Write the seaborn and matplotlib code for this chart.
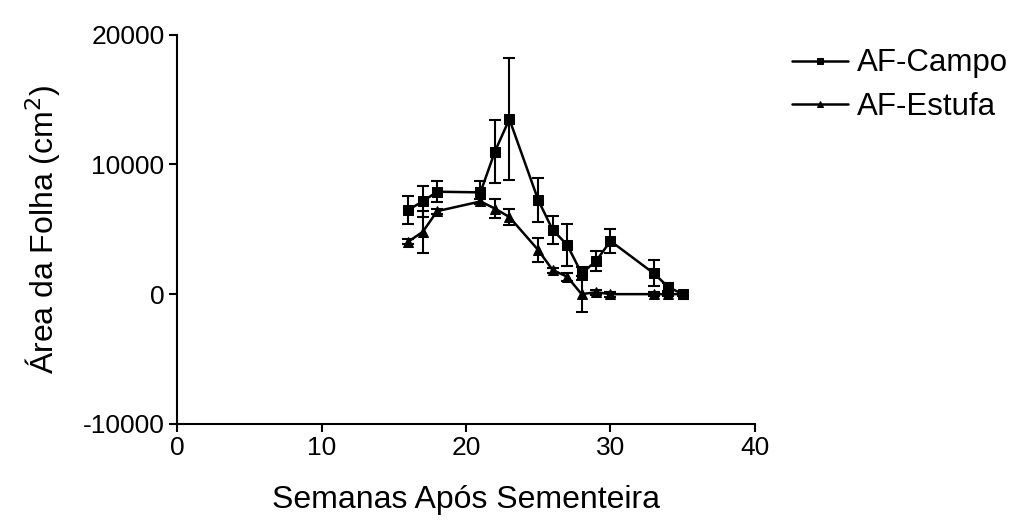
import matplotlib
matplotlib.use("Agg")
import matplotlib.pyplot as plt
import seaborn as sns
import pandas as pd
import numpy as np

weeks = [16, 17, 18, 21, 22, 23, 25, 26, 27, 28, 29, 30, 33, 34, 35]
campo = [6500, 7150, 7900, 7850, 11000, 13500, 7250, 4950, 3800, 1600, 2550, 4100, 1600, 550, 0]
campo_err = [1100, 1200, 800, 900, 2400, 4700, 1700, 1050, 1600, 500, 800, 900, 1000, 300, 150]
estufa = [4050, 4800, 6400, 7150, 6600, 5950, 3400, 1850, 1350, 0, 150, 0, 0, 0, 0]
estufa_err = [200, 1600, 200, 200, 750, 600, 900, 200, 300, 1400, 200, 200, 150, 150, 150]
series_names = ["AF-Campo", "AF-Estufa"]

sns.set_style("ticks")
plt.rcParams['font.family'] = ['Liberation Sans', 'DejaVu Sans']
plt.rcParams['axes.unicode_minus'] = False
plt.rcParams['text.color'] = 'black'
plt.rcParams['axes.labelcolor'] = 'black'

df = pd.DataFrame({
    "week": weeks + weeks,
    "value": campo + estufa,
    "serie": [series_names[0]] * len(weeks) + [series_names[1]] * len(weeks),
})

fig = plt.figure(figsize=(10.12, 5.2), dpi=100)
ax = fig.add_axes([0.175, 0.185, 0.571, 0.748])

sns.lineplot(data=df, x="week", y="value", hue="serie", style="serie",
             palette=["black", "black"], markers={"AF-Campo": "s", "AF-Estufa": "^"},
             dashes=False, linewidth=1.8, markersize=7, markeredgecolor="black",
             ax=ax, legend=True)

ax.errorbar(weeks, campo, yerr=campo_err, fmt="none", ecolor="black", elinewidth=1.5, capsize=4, capthick=1.5)
ax.errorbar(weeks, estufa, yerr=estufa_err, fmt="none", ecolor="black", elinewidth=1.5, capsize=4, capthick=1.5)

ax.set_xlim(0, 40)
ax.set_ylim(-10000, 20000)
ax.set_xticks([0, 10, 20, 30, 40])
ax.set_yticks([-10000, 0, 10000, 20000])
ax.tick_params(axis="both", labelsize=19, length=6, width=1.5, colors="black", pad=3)
for s in ["top", "right"]:
    ax.spines[s].set_visible(False)
for s in ["left", "bottom"]:
    ax.spines[s].set_linewidth(1.5)
    ax.spines[s].set_color("black")

ax.set_xlabel("Semanas Após Sementeira", fontsize=23, labelpad=18)
ax.set_ylabel("Área da Folha (cm$^2$)", fontsize=23, labelpad=14)

handles, labels = ax.get_legend_handles_labels()
for h in handles:
    h.set_markersize(5)
fig.legend(handles, labels, loc="center left", bbox_to_anchor=(792 / 1012, 1 - 85 / 520), frameon=False,
           fontsize=22.5, handlelength=1.8, handletextpad=0.28, labelspacing=0.42, borderaxespad=0,
           borderpad=0)
if ax.get_legend():
    ax.get_legend().remove()

fig.savefig("out.png", dpi=100)
